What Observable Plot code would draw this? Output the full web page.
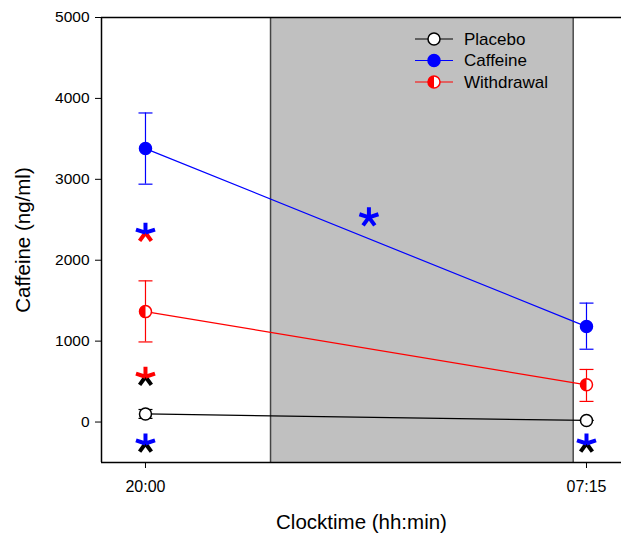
<!DOCTYPE html>
<html><head><meta charset="utf-8">
<script src="https://cdn.jsdelivr.net/npm/d3@7"></script>
<script src="https://cdn.jsdelivr.net/npm/@observablehq/plot@0.6"></script>
<style>
body{margin:0;background:#fff;font-family:Arial,"Liberation Sans",sans-serif;}
#wrap{position:relative;width:621px;height:534px;}
#legend{position:absolute;left:408px;top:27px;}
</style></head><body><div id="wrap"></div>
<script>
// ---- data ----
const timeLabels = ["20:00", "07:15"];
const timeHours = [0, 11.25];              // hours after 20:00
const groups = ["Placebo", "Caffeine", "Withdrawal"];
const groupColors = ["black", "blue", "red"];
const placeboMean = [100, 20];
const placeboLow = [45, 20];
const placeboHigh = [155, 20];
const caffeineMean = [3380, 1180];
const caffeineLow = [2940, 900];
const caffeineHigh = [3820, 1470];
const withdrawalMean = [1365, 460];
const withdrawalLow = [990, 255];
const withdrawalHigh = [1745, 650];
const sleepWindow = [3.19, 10.91];         // shaded period, hours after 20:00
const sigX = [0, 0, 0, 5.7, 11.25];
const sigY = [2340, 560, -265, 2530, -265];
const sigTop = ["blue", "red", "blue", "blue", "blue"];
const sigBottom = ["red", "black", "black", "blue", "black"];
const yTicks = [0, 1000, 2000, 3000, 4000, 5000];
const xDomain = [-1.122, 12.143];
const yDomain = [-500, 5000];
const yLabel = "Caffeine (ng/ml)";
const xLabel = "Clocktime (hh:min)";

// ---- tables ----
const means = [placeboMean, caffeineMean, withdrawalMean];
const lows = [placeboLow, caffeineLow, withdrawalLow];
const highs = [placeboHigh, caffeineHigh, withdrawalHigh];
const rows = [];
groups.forEach((g, gi) => timeHours.forEach((t, ti) => rows.push({
  group: g, color: groupColors[gi], t, mean: means[gi][ti], lo: lows[gi][ti], hi: highs[gi][ti]
})));
const sig = sigX.map((x, i) => ({x, y: sigY[i], top: sigTop[i], bottom: sigBottom[i]}));
const sleep = [{x1: sleepWindow[0], x2: sleepWindow[1]}];

// ---- custom symbols ----
const L = 10;
const rad = a => a * Math.PI / 180;
const astUpper = {draw(ctx) {
  for (const a of [0, 72, -72]) { ctx.moveTo(0, 0); ctx.lineTo(L * Math.sin(rad(a)), -L * Math.cos(rad(a))); }
}};
const astLower = {draw(ctx) {
  for (const a of [144, -144]) { ctx.moveTo(0, 0); ctx.lineTo(L * Math.sin(rad(a)), -L * Math.cos(rad(a))); }
}};
const cap = {draw(ctx) { ctx.moveTo(-7, 0); ctx.lineTo(7, 0); }};
const halfLeft = {draw(ctx, size) {
  const r = Math.sqrt(size / Math.PI);
  ctx.moveTo(0, -r); ctx.arc(0, 0, r, -Math.PI / 2, Math.PI / 2, true); ctx.closePath();
}};

const plot = Plot.plot({
  width: 621, height: 534,
  marginLeft: 101, marginRight: 0, marginTop: 17, marginBottom: 72,
  x: {domain: xDomain},
  y: {domain: yDomain},
  color: {type: "identity"},
  style: {fontFamily: "Arial, 'Liberation Sans', sans-serif", color: "black", background: "white"},
  marks: [
    Plot.rect(sleep, {x1: "x1", x2: "x2", y1: yDomain[0], y2: yDomain[1], fill: "#c0c0c0"}),
    Plot.ruleX(sleepWindow, {stroke: "#444", strokeWidth: 1.5}),
    Plot.ruleY([yDomain[1]], {stroke: "black", strokeWidth: 1.5}),
    Plot.ruleY([yDomain[0]], {stroke: "black", strokeWidth: 1.5}),
    Plot.ruleX([xDomain[0]], {stroke: "black", strokeWidth: 1.5}),
    Plot.axisY({ticks: yTicks, tickSize: 6, tickPadding: 6, fontSize: 15.5, label: null, tickFormat: d => String(d)}),
    Plot.axisX({ticks: timeHours, tickSize: 6, tickPadding: 12, fontSize: 16, label: null,
      tickFormat: d => timeLabels[timeHours.indexOf(d)]}),
    Plot.text([yLabel], {frameAnchor: "left", textAnchor: "middle", lineAnchor: "middle", rotate: -90, dx: -78, fontSize: 20.5, text: d => d}),
    Plot.text([xLabel], {frameAnchor: "bottom", textAnchor: "middle", lineAnchor: "middle", dy: 60, fontSize: 20.5, text: d => d}),
    Plot.line(rows, {x: "t", y: "mean", z: "group", stroke: "color", strokeWidth: 1.2}),
    Plot.ruleX(rows, {x: "t", y1: "lo", y2: "hi", stroke: "color", strokeWidth: 1.2}),
    Plot.dot(rows, {x: "t", y: "lo", symbol: cap, stroke: "color", fill: "none", strokeWidth: 1.2}),
    Plot.dot(rows, {x: "t", y: "hi", symbol: cap, stroke: "color", fill: "none", strokeWidth: 1.2}),
    Plot.dot(rows, {x: "t", y: "mean", r: 6, stroke: "color", fill: d => d.group === "Caffeine" ? "blue" : "white", strokeWidth: 1.5}),
    Plot.dot(rows.filter(d => d.group === "Withdrawal"), {x: "t", y: "mean", r: 6, symbol: halfLeft, fill: "red", stroke: "none"}),
    Plot.dot(sig, {x: "x", y: "y", symbol: astLower, stroke: "bottom", fill: "none", strokeWidth: 4}),
    Plot.dot(sig, {x: "x", y: "y", symbol: astUpper, stroke: "top", fill: "none", strokeWidth: 4})
  ]
});
document.getElementById("wrap").appendChild(plot);

// ---- legend ----
const leg = d3.select("#wrap").append("svg").attr("id", "legend").attr("width", 180).attr("height", 70);
groups.forEach((g, i) => {
  const y = 12 + i * 21.5;
  const c = groupColors[i];
  const row = leg.append("g").attr("transform", `translate(0,${y})`);
  row.append("line").attr("x1", 7).attr("x2", 45).attr("stroke", c).attr("stroke-width", 1.2);
  row.append("circle").attr("cx", 26).attr("r", 6).attr("fill", g === "Caffeine" ? "blue" : "white")
    .attr("stroke", c).attr("stroke-width", 1.5);
  if (g === "Withdrawal") row.append("path").attr("d", d3.arc()({innerRadius: 0, outerRadius: 6, startAngle: Math.PI, endAngle: 2 * Math.PI})).attr("transform", "translate(26,0)").attr("fill", "red");
  row.append("text").attr("x", 56).attr("dy", "0.35em").attr("font-size", 17).attr("fill", "black").text(g);
});
</script></body></html>
